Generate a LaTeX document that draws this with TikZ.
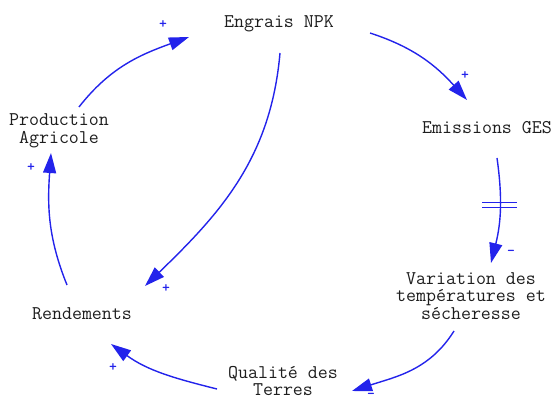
\documentclass[tikz,border=0pt]{standalone}
\usepackage{fontspec}
\usetikzlibrary{arrows.meta}
\definecolor{linkblue}{RGB}{35,35,235}
\definecolor{labelgray}{RGB}{30,30,30}

\begin{document}
\begin{tikzpicture}[x=1pt, y=1pt,
    var/.style={align=center, text=labelgray, font=\ttfamily\fontsize{19.4}{17.8}\selectfont, inner sep=0pt},
    link/.style={-{Triangle[length=20pt, width=13pt]}, draw=linkblue, line width=1.4pt},
    sign/.style={text=linkblue, font=\ttfamily\bfseries\fontsize{15}{15}\selectfont, inner sep=0pt},
    bar/.style={draw=linkblue, line width=1.2pt}
]
    \useasboundingbox (0,0) rectangle (554,401);

    \node[var] (eng) at (279,377) {Engrais NPK};
    \node[var] (emis) at (487,273) {Emissions GES};
    \node[var] (var) at (471,105) {Variation des\\temp\'eratures et\\s\'echeresse};
    \node[var] (qual) at (283,20) {Qualit\'e des\\Terres};
    \node[var] (rend) at (82,87) {Rendements};
    \node[var] (prod) at (59,270) {Production\\Agricole};

    \draw[link] ([shift={(20,24)}]prod.center) to[out=52, in=200] ([shift={(-90,-13)}]eng.center);
    \draw[link] ([shift={(91,-9)}]eng.center) to[out=-18, in=132] ([shift={(-20,28)}]emis.center);
    \draw[link] ([shift={(10,-30)}]emis.center) to[out=-82, in=76] coordinate[pos=0.44] (delay) ([shift={(20,33)}]var.center);
    \draw[link] ([shift={(-17,-35)}]var.center) to[out=-122, in=18] ([shift={(69,-10)}]qual.center);
    \draw[link] ([shift={(-66,-8)}]qual.center) to[out=166, in=-36] ([shift={(29,-30)}]rend.center);
    \draw[link] ([shift={(-15,29)}]rend.center) to[out=112, in=-94] ([shift={(-8,-22)}]prod.center);
    \draw[link] ([shift={(1,-29)}]eng.center) to[out=-95, in=44] ([shift={(63,28)}]rend.center);

    \draw[bar] ([shift={(-18,2.5)}]delay) -- ++(35,0);
    \draw[bar] ([shift={(-18,-2.5)}]delay) -- ++(35,0);

    \node[sign] (s1) at (163,376) {+};
    \node[sign] (s2) at (465,325) {+};
    \node[sign] (s3) at (511,148) {\textendash};
    \node[sign] (s4) at (166,112) {+};
    \node[sign] (s5) at (113,33) {+};
    \node[sign] (s6) at (31,233) {+};
    \node[sign] (s7) at (371,5) {\textendash};
\end{tikzpicture}
\end{document}
